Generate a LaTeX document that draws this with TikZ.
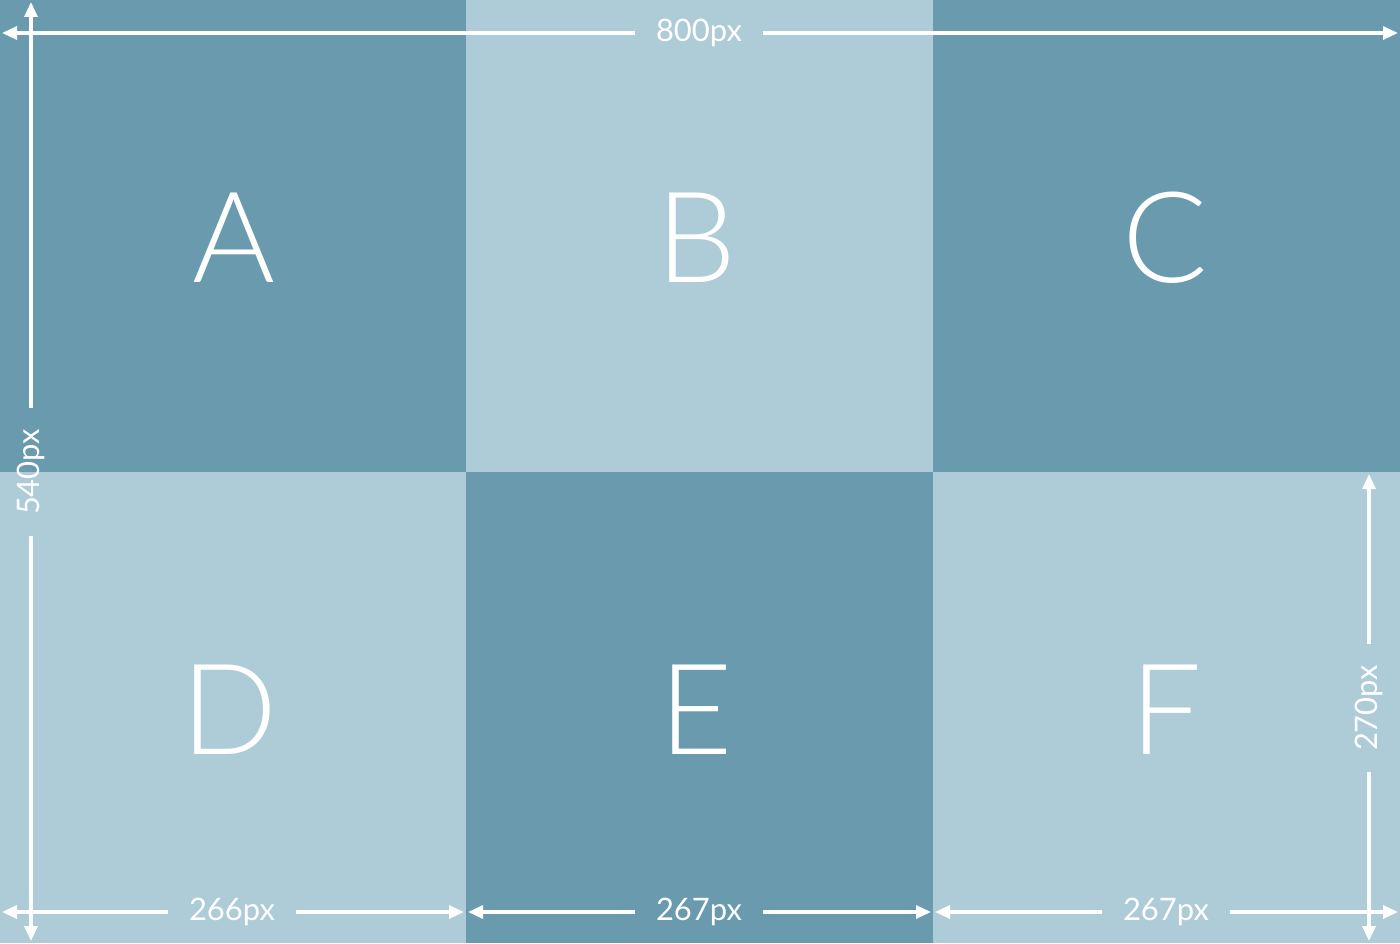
\documentclass[tikz,border=0pt]{standalone}
\usepackage{fontspec}
\setmainfont{Lato}
\newfontfamily\thinfont{Lato Light}
\usetikzlibrary{arrows.meta}

\begin{document}
\begin{tikzpicture}[
	dimarrow/.style={draw=white, line width=0.9pt, -{Triangle[length=1.5mm, width=1.3mm]}},
	dimlabel/.style={text=white, font=\fontsize{8.8}{11}\selectfont, inner xsep=0.2cm, inner ysep=0pt},
	cellletter/.style={text=white, font=\thinfont\fontsize{36}{40}\selectfont, inner sep=0pt}
	]
	% Gesamtgroesse (1 cm = 100 px)
	\def\W{14}    % Breite
	\def\H{9.43}  % Hoehe
	
	% Farben
	\definecolor{celldark}{RGB}{105, 154, 173}
	\definecolor{celllight}{RGB}{174, 203, 216}
	
	\useasboundingbox (0,0) rectangle (\W,\H);
	
	% Felder
	\fill[celldark] (0,4.71) rectangle (4.66,\H);      % A
	\fill[celllight] (4.66,4.71) rectangle (9.33,\H);  % B
	\fill[celldark] (9.33,4.71) rectangle (\W,\H);     % C
	\fill[celllight] (0,0) rectangle (4.66,4.71);      % D
	\fill[celldark] (4.66,0) rectangle (9.33,4.71);    % E
	\fill[celllight] (9.33,0) rectangle (\W,4.71);     % F
	
	% Buchstaben
	\node[cellletter] (lA) at (2.34,7.05) {A};
	\node[cellletter] (lB) at (6.96,7.05) {B};
	\node[cellletter] (lC) at (11.65,7.05) {C};
	\node[cellletter] (lD) at (2.30,2.33) {D};
	\node[cellletter] (lE) at (6.96,2.33) {E};
	\node[cellletter] (lF) at (11.66,2.33) {F};
	
	% Endpunkte der Masspfeile
	\coordinate (topL) at (0.02,9.10);
	\coordinate (topR) at (13.98,9.10);
	\coordinate (leftT) at (0.31,9.41);
	\coordinate (leftB) at (0.31,0.02);
	\coordinate (botA) at (0.02,0.31);
	\coordinate (botB) at (4.64,0.31);
	\coordinate (botC) at (4.68,0.31);
	\coordinate (botD) at (9.31,0.31);
	\coordinate (botE) at (9.35,0.31);
	\coordinate (botF) at (13.98,0.31);
	\coordinate (rightT) at (13.69,4.69);
	\coordinate (rightB) at (13.69,0.02);
	
	% Beschriftungen
	\node[dimlabel] (width) at (6.99,9.10) {800px};
	\node[dimlabel, rotate=90] (height) at (0.31,4.71) {540px};
	\node[dimlabel] (wone) at (2.32,0.31) {266px};
	\node[dimlabel] (wtwo) at (6.99,0.31) {267px};
	\node[dimlabel] (wthree) at (11.66,0.31) {267px};
	\node[dimlabel, rotate=90] (hhalf) at (13.69,2.35) {270px};
	
	% Pfeile
	\draw[dimarrow] (width) -- (topL);
	\draw[dimarrow] (width) -- (topR);
	\draw[dimarrow] (height) -- (leftT);
	\draw[dimarrow] (height) -- (leftB);
	\draw[dimarrow] (wone) -- (botA);
	\draw[dimarrow] (wone) -- (botB);
	\draw[dimarrow] (wtwo) -- (botC);
	\draw[dimarrow] (wtwo) -- (botD);
	\draw[dimarrow] (wthree) -- (botE);
	\draw[dimarrow] (wthree) -- (botF);
	\draw[dimarrow] (hhalf) -- (rightT);
	\draw[dimarrow] (hhalf) -- (rightB);
\end{tikzpicture}
\end{document}
